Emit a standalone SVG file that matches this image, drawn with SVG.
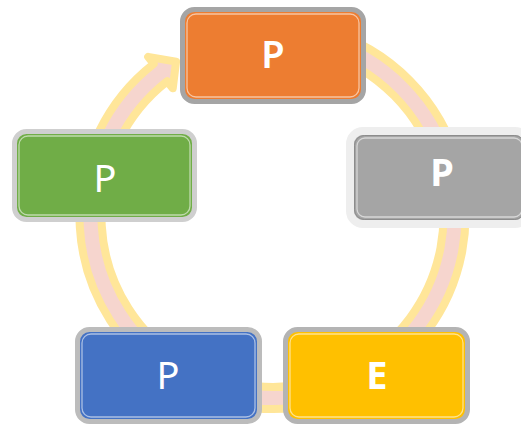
<svg xmlns="http://www.w3.org/2000/svg" width="521" height="426" viewBox="0 0 521 426">
  <style>
    .lbl { font-family: "Noto Sans", "Open Sans", "Liberation Sans", sans-serif; font-size: 38px; fill: #FFFFFF; text-anchor: middle; }
    .inner { fill: none; stroke: #FFFFFF; stroke-opacity: 0.55; stroke-width: 1.3; }
  </style>
  <rect width="521" height="426" fill="#FFFFFF"/>
  <g id="connectors">
    <path d="M 238.99 25.93 A 193 193 0 1 1 153.68 63.91 L 148.14 56.82 L 176.05 61.65 L 172.76 88.34 L 167.22 81.25 A 171 171 0 1 0 242.81 47.60 Z" fill="#F6D5CE" stroke="#FFE699" stroke-width="8" stroke-linejoin="round"/>
  </g>
  <g id="node-top">
    <rect x="182.5" y="9.5" width="181" height="92" rx="12" fill="#ED7D31" stroke="#A5A5A5" stroke-width="5"/>
    <rect class="inner" x="187" y="14" width="172" height="83" rx="9"/>
    <text class="lbl" x="273" y="68" font-weight="600">P</text>
  </g>
  <g id="node-right">
    <rect x="350" y="131" width="178" height="93" rx="13" fill="#A5A5A5" stroke="#EEEEEE" stroke-width="8"/>
    <rect x="354.5" y="135.5" width="170" height="84" rx="10" fill="none" stroke="#8C8C8C" stroke-width="1"/>
    <rect class="inner" x="357" y="138" width="165" height="79" rx="8"/>
    <text class="lbl" x="442" y="186" font-weight="700">P</text>
  </g>
  <g id="node-bottom-right">
    <rect x="285.5" y="329.5" width="182" height="92" rx="12" fill="#FFC000" stroke="#B4B4B4" stroke-width="5"/>
    <rect class="inner" x="290" y="334" width="173" height="83" rx="9"/>
    <text class="lbl" x="377" y="389" font-weight="700">E</text>
  </g>
  <g id="node-bottom-left">
    <rect x="77.5" y="329.5" width="182" height="92" rx="12" fill="#4472C4" stroke="#BCBCBC" stroke-width="5"/>
    <rect class="inner" x="82" y="334" width="173" height="83" rx="9"/>
    <text class="lbl" x="168" y="389" font-weight="400">P</text>
  </g>
  <g id="node-left">
    <rect x="14.5" y="131.5" width="180" height="88" rx="12" fill="#70AD47" stroke="#CFCFCF" stroke-width="5"/>
    <rect class="inner" x="19" y="136" width="171" height="79" rx="9"/>
    <text class="lbl" x="105" y="192" font-weight="400">P</text>
  </g>
</svg>
